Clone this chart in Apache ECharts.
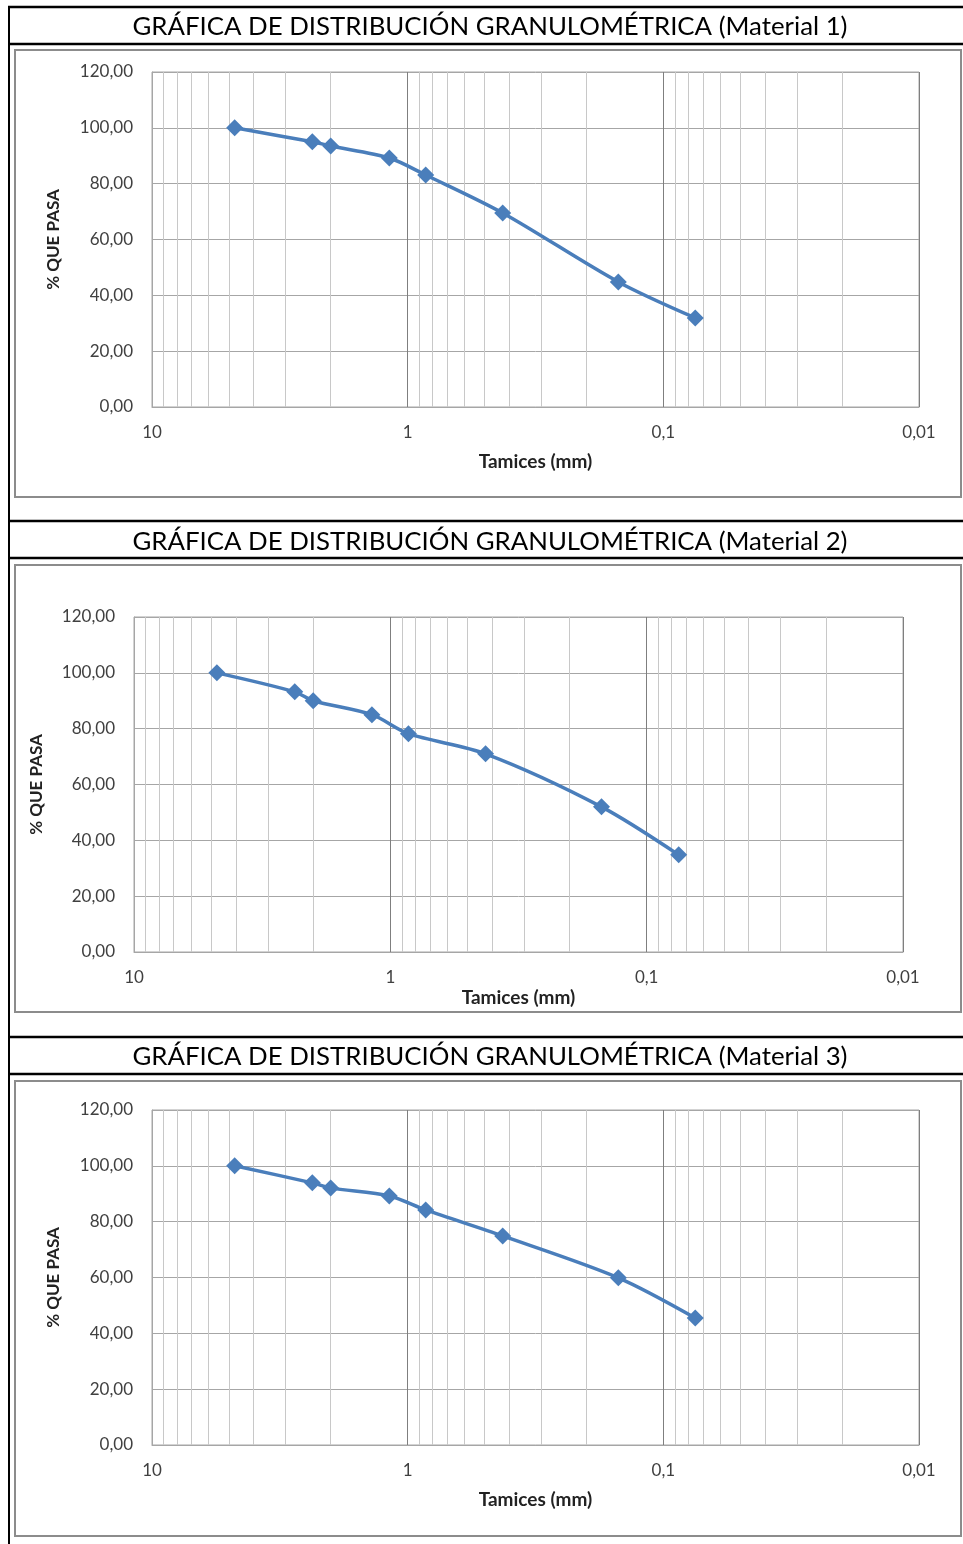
<!DOCTYPE html>
<html>
<head>
    <meta charset="UTF-8">
    <title>Granulometria</title>
    <script src="https://cdn.jsdelivr.net/npm/echarts@6/dist/echarts.min.js"></script>
    <style>
        html, body { margin: 0; padding: 0; background: #fff; }
        #main { width: 963px; height: 1544px; }
    </style>
</head>
<body>
<div id="main"></div>
<script>
    // tamices (mm) y % que pasa de cada material
    var tamices = [4.75, 2.36, 2.0, 1.18, 0.85, 0.425, 0.15, 0.075];
    var material1 = [100, 95.0, 93.5, 89.2, 83.1, 69.5, 44.8, 31.9];
    var material2 = [100, 93.2, 90.0, 85.0, 78.2, 71.0, 52.0, 34.8];
    var material3 = [100, 93.9, 92.1, 89.2, 84.2, 74.9, 59.9, 45.5];
    var titulos = [
        'GRÁFICA DE DISTRIBUCIÓN GRANULOMÉTRICA (Material 1)',
        'GRÁFICA DE DISTRIBUCIÓN GRANULOMÉTRICA (Material 2)',
        'GRÁFICA DE DISTRIBUCIÓN GRANULOMÉTRICA (Material 3)'
    ];
    // lineas secundarias de la escala log (2..9 de cada decada)
    var lineasMenores = [9, 8, 7, 6, 5, 4, 3, 2, 0.9, 0.8, 0.7, 0.6, 0.5, 0.4, 0.3, 0.2, 0.09, 0.08, 0.07, 0.06, 0.05, 0.04, 0.03, 0.02];

    var FONT = 'Lato';
    var azul = '#4a7ebb';

    var grids = [
        {left: 152, top: 72, width: 767, height: 335, nameGapX: 45, nameGapY: 90},
        {left: 134, top: 617, width: 769, height: 335, nameGapX: 36, nameGapY: 89},
        {left: 152, top: 1110, width: 767, height: 335, nameGapX: 45, nameGapY: 90}
    ];
    var datos = [material1, material2, material3];

    var option = {
        animation: false,
        backgroundColor: '#fff',
        textStyle: {fontFamily: FONT},
        grid: [], xAxis: [], yAxis: [], series: [],
        graphic: []
    };

    grids.forEach(function (g, i) {
        option.grid.push({left: g.left, top: g.top, width: g.width, height: g.height,
            show: true, borderColor: '#a6a6a6', borderWidth: 1});
        option.xAxis.push({
            type: 'log', logBase: 10, min: 0.01, max: 10, inverse: true, gridIndex: i,
            name: 'Tamices (mm)', nameLocation: 'middle', nameGap: g.nameGapX,
            nameTextStyle: {fontWeight: 'bold', fontSize: 19, color: '#222', fontFamily: FONT},
            axisLine: {show: true, onZero: false, lineStyle: {color: '#a6a6a6'}},
            axisTick: {show: false},
            axisLabel: {fontSize: 17, color: '#404040', margin: 17,
                formatter: function (v) { return String(v).replace('.', ','); }},
            splitLine: {show: true, lineStyle: {color: '#7f7f7f', width: 1}}
        });
        option.yAxis.push({
            type: 'value', min: 0, max: 120, interval: 20, gridIndex: i,
            name: '% QUE PASA', nameLocation: 'middle', nameGap: g.nameGapY, nameRotate: 90,
            nameTextStyle: {fontWeight: 'bold', fontSize: 17, color: '#222', fontFamily: FONT},
            axisLine: {show: true, lineStyle: {color: '#a6a6a6'}},
            axisTick: {show: false},
            axisLabel: {fontSize: 17, color: '#404040', margin: 19,
                formatter: function (v) { return v.toFixed(2).replace('.', ','); }},
            splitLine: {show: true, lineStyle: {color: '#a6a6a6', width: 1}}
        });
        // serie auxiliar para las lineas menores
        option.series.push({
            type: 'line', xAxisIndex: i, yAxisIndex: i, data: [], silent: true, z: 1,
            markLine: {
                silent: true, symbol: ['none', 'none'], label: {show: false},
                lineStyle: {color: '#c8c8c8', width: 1, type: 'solid'},
                data: lineasMenores.map(function (v) { return {xAxis: v}; })
            }
        });
        option.series.push({
            type: 'line', xAxisIndex: i, yAxisIndex: i, z: 5,
            smooth: 0.3,
            data: tamices.map(function (t, k) { return [t, datos[i][k]]; }),
            symbol: 'diamond', symbolSize: 17,
            itemStyle: {color: azul},
            lineStyle: {color: azul, width: 3.5}
        });
    });

    // marco tipo hoja
    var lineasNegras = [7, 44, 521, 558, 1037, 1074];
    lineasNegras.forEach(function (y) {
        option.graphic.push({type: 'line', shape: {x1: 8, y1: y, x2: 963, y2: y},
            style: {stroke: '#000', lineWidth: 2.5}});
    });
    option.graphic.push({type: 'line', shape: {x1: 9, y1: 6, x2: 9, y2: 1544},
        style: {stroke: '#000', lineWidth: 2}});
    var cajas = [[15, 50, 946, 447], [15, 565, 946, 447], [15, 1081, 946, 455]];
    cajas.forEach(function (c) {
        option.graphic.push({type: 'rect', shape: {x: c[0], y: c[1], width: c[2], height: c[3]},
            style: {fill: null, stroke: '#8c8c8c', lineWidth: 2}});
    });
    var titulosY = [27, 542, 1057];
    titulos.forEach(function (t, i) {
        option.graphic.push({type: 'text', x: 490, y: titulosY[i],
            style: {text: t, fontFamily: FONT, fontSize: 25.8, fill: '#000',
                align: 'center', verticalAlign: 'middle'}});
    });

    var chart = echarts.init(document.getElementById('main'));
    chart.setOption(option);
</script>
</body>
</html>
